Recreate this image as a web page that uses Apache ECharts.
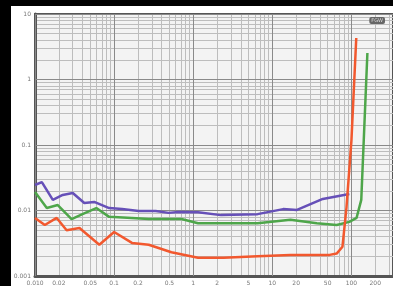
<!DOCTYPE html>
<html>
<head>
<meta charset="utf-8">
<script src="https://cdn.jsdelivr.net/npm/echarts@6/dist/echarts.min.js"></script>
<style>
  html, body { margin: 0; padding: 0; background: #000; }
  #chart { width: 393px; height: 286px; }
</style>
</head>
<body>
<div id="chart"></div>
<script>
// x labels shown under the plot, y labels left of it
const xLabelValues = [0.01, 0.02, 0.05, 0.1, 0.2, 0.5, 1, 2, 5, 10, 20, 50, 100, 200]
const xLabelTexts = ['0.010', '0.02', '0.05', '0.1', '0.2', '0.5', '1', '2', '5', '10', '20', '50', '100', '200']
const yLabelValues = [0.001, 0.01, 0.1, 1, 10]
const yLabelTexts = ['0.001', '0.01', '0.1', '1', '10']

// purple trace
const purpleX = [0.01, 0.0122, 0.0168, 0.0224, 0.030, 0.042, 0.056, 0.0866, 0.126, 0.205, 0.335, 0.487, 0.65, 1.15, 2.24, 6.5, 13.7, 20.5, 43.4, 94]
const purpleY = [0.0245, 0.0272, 0.0145, 0.0173, 0.0185, 0.0130, 0.0135, 0.0109, 0.0105, 0.0098, 0.0098, 0.0092, 0.0095, 0.0094, 0.0085, 0.0088, 0.0105, 0.0102, 0.0150, 0.0179]

// green trace
const greenX = [0.01, 0.0141, 0.0194, 0.029, 0.0398, 0.0596, 0.0866, 0.168, 0.274, 0.71, 1.15, 2.42, 6.5, 16.9, 36.5, 65, 94, 116, 133, 159]
const greenY = [0.0191, 0.0109, 0.0121, 0.0074, 0.0088, 0.0109, 0.0080, 0.0077, 0.0074, 0.0074, 0.0064, 0.0064, 0.0064, 0.0072, 0.0064, 0.0060, 0.0067, 0.0077, 0.0145, 2.54]

// orange trace
const redX = [0.01, 0.0133, 0.0188, 0.0251, 0.0365, 0.065, 0.1, 0.168, 0.274, 0.53, 1.15, 2.42, 6.5, 16.9, 53, 65, 77, 86.6, 100, 115]
const redY = [0.0077, 0.0060, 0.0077, 0.0050, 0.0054, 0.0030, 0.0047, 0.0032, 0.0030, 0.0023, 0.0019, 0.0019, 0.0020, 0.0021, 0.0021, 0.0022, 0.0028, 0.0113, 0.119, 4.3]

// grid lines of the log paper: 1..9 in every decade
const xDecades = [0.01, 0.1, 1, 10, 100]
const yDecades = [0.001, 0.01, 0.1, 1]
const steps = [1, 2, 3, 4, 5, 6, 7, 8, 9]

const minorValues = (decades, max) => {
  const out = []
  decades.forEach(d => steps.forEach(s => {
    const v = +(d * s).toPrecision(3)
    if (v <= max) out.push(v)
  }))
  return out
}

const pick = (values, texts) => value => {
  let best = 0
  values.forEach((v, i) => {
    if (Math.abs(Math.log10(v) - Math.log10(value)) < Math.abs(Math.log10(values[best]) - Math.log10(value))) best = i
  })
  return texts[best]
}

const zip = (xs, ys) => xs.map((x, i) => [x, ys[i]])

const labelStyle = {
  color: '#777',
  fontSize: 6,
  fontFamily: 'DejaVu Sans'
}

const lineSeries = (name, xs, ys, color) => ({
  name,
  type: 'line',
  data: zip(xs, ys),
  symbol: 'none',
  lineStyle: { color, width: 2.5 },
  z: 5
})

const chart = echarts.init(document.getElementById('chart'))

const option = {
  animation: false,
  backgroundColor: '#fff',
  grid: {
    left: 35,
    top: 14,
    right: -4,
    bottom: 10,
    show: true,
    backgroundColor: '#f3f3f3',
    borderColor: '#555',
    borderWidth: 2
  },
  xAxis: {
    type: 'log',
    min: 0.01,
    max: 335,
    axisLine: { show: true, lineStyle: { color: '#555', width: 3 } },
    axisTick: { show: false, customValues: minorValues(xDecades, 335) },
    axisLabel: {
      ...labelStyle,
      margin: 4,
      customValues: xLabelValues,
      formatter: pick(xLabelValues, xLabelTexts)
    },
    splitLine: { show: true, lineStyle: { color: '#bdbdbd', width: 1 } }
  },
  yAxis: {
    type: 'log',
    min: 0.001,
    max: 10,
    axisLine: { show: true, lineStyle: { color: '#555', width: 3 } },
    axisTick: { show: false, customValues: minorValues(yDecades, 10) },
    axisLabel: {
      ...labelStyle,
      margin: 4,
      customValues: yLabelValues,
      formatter: pick(yLabelValues, yLabelTexts)
    },
    splitLine: { show: true, lineStyle: { color: '#bdbdbd', width: 1 } }
  },
  graphic: [
    { type: 'rect', shape: { x: 0, y: 0, width: 11, height: 286 }, style: { fill: '#000' }, z: 100 },
    { type: 'rect', shape: { x: 0, y: 0, width: 393, height: 6 }, style: { fill: '#000' }, z: 100 },
    {
      type: 'text',
      right: 8,
      top: 17,
      z: 100,
      style: {
        text: 'FGW',
        fontSize: 5,
        fontFamily: 'DejaVu Sans',
        fill: '#ddd',
        backgroundColor: '#666',
        padding: [1, 2],
        borderRadius: 2
      }
    }
  ],
  series: [
    {
      type: 'line',
      data: [],
      markLine: {
        silent: true,
        symbol: 'none',
        label: { show: false },
        lineStyle: { color: '#8a8a8a', width: 1, type: 'solid' },
        data: xDecades.map(v => ({ xAxis: v })).concat(yDecades.concat([10]).map(v => ({ yAxis: v })))
      }
    },
    lineSeries('purple', purpleX, purpleY, '#6650b8'),
    lineSeries('green', greenX, greenY, '#4ea64a'),
    lineSeries('orange', redX, redY, '#f2582e')
  ]
}

chart.setOption(option)
</script>
</body>
</html>
